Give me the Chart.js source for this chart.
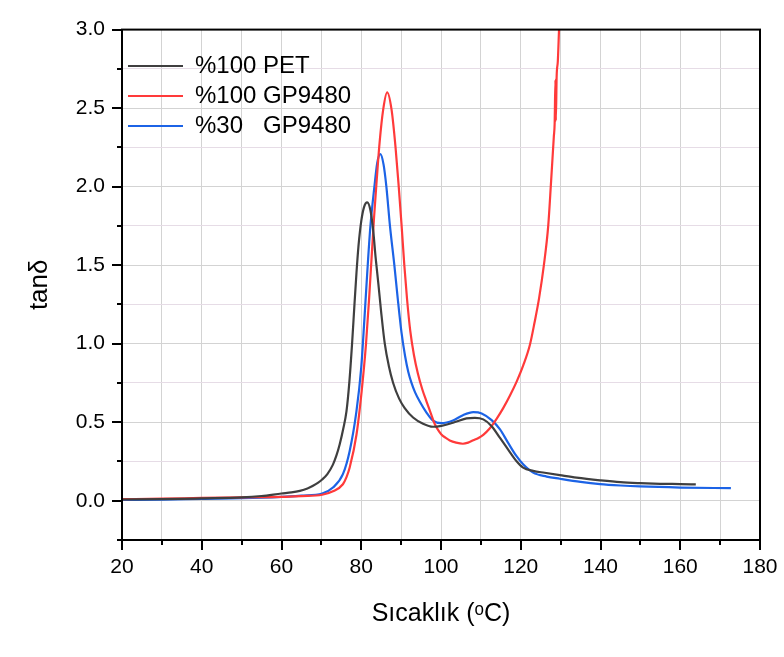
<!DOCTYPE html>
<html>
<head>
<meta charset="utf-8">
<script src="https://cdn.jsdelivr.net/npm/chart.js@4.4.1/dist/chart.umd.min.js"></script>
<style>
  html, body { margin: 0; padding: 0; background: #ffffff; }
  #wrap { width: 784px; height: 657px; }
</style>
</head>
<body>
<div id="wrap"><canvas id="c" width="784" height="657"></canvas></div>
<script>
// ---- Data ----
const seriesLabels = ['%100 PET', '%100 GP9480', '%30   GP9480'];
const seriesColors = ['#3f3f3f', '#ff3a3a', '#1c63e6'];

const tempPET = [20,30,40,50,55,60,62.5,64.6,66.5,67.9,69.2,70.2,71.5,72.9,73.8,74.6,75.5,76.3,77.0,77.7,78.3,78.8,79.3,80.0,80.7,81.5,82.3,83.0,83.6,84.3,85.0,85.9,86.9,88.0,89.5,90.9,93.0,95.5,98.0,100.1,103,106.4,108.5,110.6,112.7,114.8,116.8,118.9,120.6,123.1,126.0,129.8,134.0,139.9,145.0,149.9,155.0,160,163.9];
const tanPET  = [0.008,0.010,0.015,0.021,0.030,0.046,0.053,0.063,0.078,0.095,0.115,0.135,0.17,0.23,0.29,0.36,0.46,0.57,0.75,1.0,1.25,1.45,1.62,1.78,1.87,1.90,1.85,1.72,1.55,1.38,1.20,1.0,0.86,0.75,0.65,0.59,0.53,0.49,0.471,0.477,0.497,0.524,0.528,0.518,0.475,0.40,0.327,0.253,0.211,0.19,0.178,0.163,0.147,0.13,0.118,0.112,0.108,0.106,0.104];

const tempGP100 = [20,30,40,50,60,65,70.2,72.9,75.4,76.3,77.1,78.8,80.1,81.2,82.0,82.6,83.2,83.9,84.6,85.5,86.5,87.6,88.6,89.4,90.1,90.8,91.5,92.3,93.2,94.2,95.3,96.4,97.4,98.4,99.3,100.1,101.2,102.2,103.8,105.5,106.8,108.1,109.4,110.6,112.2,113.9,115.6,117.3,119.0,120.6,122.3,123.5,124.6,125.8,126.9,127.6,128.3,128.5,128.7,128.8,129.0,129.3,129.6];
const tanGP100  = [0.010,0.013,0.018,0.022,0.025,0.030,0.038,0.060,0.105,0.15,0.211,0.42,0.697,1.0,1.30,1.55,1.80,2.05,2.28,2.49,2.60,2.49,2.25,2.0,1.76,1.50,1.28,1.08,0.93,0.81,0.71,0.63,0.56,0.49,0.45,0.422,0.40,0.384,0.37,0.363,0.37,0.385,0.40,0.42,0.46,0.52,0.59,0.67,0.76,0.86,0.993,1.14,1.29,1.50,1.753,2.03,2.32,2.40,2.68,2.42,2.70,2.80,3.0];

const tempGP30 = [20,30,40,50,60,65,70.2,72.9,75.4,77.1,78.8,80.0,80.8,81.5,82.3,83.3,84.0,84.8,85.6,86.3,87.2,88.3,89.1,90.1,91.0,91.8,92.6,93.5,94.7,96.4,98.0,100.1,103,105.5,108.1,110.2,112.7,114.8,116.8,118.9,120.6,123.1,126.5,129.8,135.0,139.9,145.0,149.9,160,172.7];
const tanGP30  = [0.005,0.007,0.012,0.016,0.025,0.033,0.046,0.084,0.169,0.317,0.57,0.85,1.16,1.45,1.75,2.0,2.15,2.207,2.14,2.0,1.75,1.50,1.30,1.07,0.92,0.82,0.75,0.69,0.63,0.56,0.51,0.494,0.511,0.545,0.564,0.556,0.513,0.454,0.37,0.285,0.232,0.179,0.154,0.14,0.12,0.106,0.097,0.091,0.084,0.080];

const xTickValues = [20,40,60,80,100,120,140,160,180];
const yTickValues = [0.0,0.5,1.0,1.5,2.0,2.5,3.0];
const xTitle = 'Sıcaklık (ᵒC)';
const yTitle = 'tanδ';

// ---- build datasets ----
function pts(xs, ys) { return xs.map((v, i) => ({ x: v, y: ys[i] })); }
const seriesData = [pts(tempPET, tanPET), pts(tempGP100, tanGP100), pts(tempGP30, tanGP30)];

const FONT = '"Liberation Sans", Arial, sans-serif';

const framePlugin = {
  id: 'frameTicks',
  afterDraw(chart) {
    const { ctx, chartArea: { left, right, top, bottom }, scales: { x, y } } = chart;
    ctx.save();
    ctx.strokeStyle = '#000';
    ctx.lineWidth = 2;
    ctx.beginPath();
    for (let v = 20; v <= 180; v += 10) {
      const px = Math.round(x.getPixelForValue(v));
      const len = (v % 20 === 0) ? 10 : 5;
      ctx.moveTo(px, bottom); ctx.lineTo(px, bottom + len);
    }
    for (let k = 0; k <= 13; k++) {
      const v = -0.25 + k * 0.25;
      const py = Math.round(y.getPixelForValue(v));
      const major = Math.abs((v * 2) - Math.round(v * 2)) < 1e-6;
      const len = major ? 10 : 5;
      ctx.moveTo(left, py); ctx.lineTo(left - len, py);
    }
    ctx.stroke();
    ctx.lineWidth = 2;
    ctx.strokeRect(left, top, right - left, bottom - top);
    ctx.restore();
  }
};

new Chart(document.getElementById('c'), {
  type: 'line',
  data: {
    datasets: seriesData.map((d, i) => ({
      label: seriesLabels[i],
      data: d,
      borderColor: seriesColors[i],
      backgroundColor: seriesColors[i],
      borderWidth: 2.2,
      pointRadius: 0,
      fill: false,
      cubicInterpolationMode: 'monotone'
    }))
  },
  options: {
    responsive: false,
    animation: false,
    devicePixelRatio: 1,
    layout: { padding: { top: 27, right: 24, left: 0, bottom: 0 } },
    plugins: {
      tooltip: { enabled: false },
      legend: {
        position: 'chartArea',
        align: 'start',
        title: { display: true, text: ' ', font: { size: 10 }, padding: { top: 4, bottom: 32 } },
        labels: {
          usePointStyle: true,
          pointStyle: 'line',
          pointStyleWidth: 55,
          padding: 6,
          color: '#000',
          font: { family: FONT, size: 24 }
        }
      }
    },
    scales: {
      x: {
        type: 'linear',
        min: 20, max: 180,
        afterFit(s) { s.height = 117; s.paddingLeft = 0; s.paddingRight = 0; },
        afterBuildTicks(s) { const t = []; for (let v = 20; v <= 180; v += 10) t.push({ value: v }); s.ticks = t; },
        ticks: {
          padding: 15,
          color: '#000',
          maxRotation: 0,
          autoSkip: false,
          font: { family: FONT, size: 21 },
          callback: (v) => xTickValues.includes(v) ? String(v) : ''
        },
        grid: { color: '#d3d3d3', lineWidth: 1, drawTicks: false },
        border: { display: true, color: '#000', width: 2 },
        title: { display: true, text: xTitle, color: '#000', font: { family: FONT, size: 25 }, padding: { top: 0, bottom: 28 } }
      },
      y: {
        type: 'linear',
        min: -0.25, max: 3.0,
        afterFit(s) { s.width = 122; },
        afterBuildTicks(s) { const t = []; for (let k = 0; k <= 13; k++) t.push({ value: -0.25 + k * 0.25 }); s.ticks = t; },
        ticks: {
          padding: 17,
          color: '#000',
          autoSkip: false,
          font: { family: FONT, size: 21 },
          callback: (v) => {
            const m = yTickValues.find(t => Math.abs(t - v) < 1e-6);
            return m === undefined ? '' : m.toFixed(1);
          }
        },
        grid: {
          drawTicks: false,
          lineWidth: 1,
          color: (c) => {
            const v = c.tick ? c.tick.value : 0;
            return Math.abs(v * 2 - Math.round(v * 2)) < 1e-6 ? '#d3d3d3' : '#e6dce6';
          }
        },
        border: { display: true, color: '#000', width: 2 },
        title: { display: true, text: yTitle, color: '#000', font: { family: FONT, size: 26 }, padding: { top: 24, bottom: 0 } }
      }
    }
  },
  plugins: [framePlugin]
});
</script>
</body>
</html>
